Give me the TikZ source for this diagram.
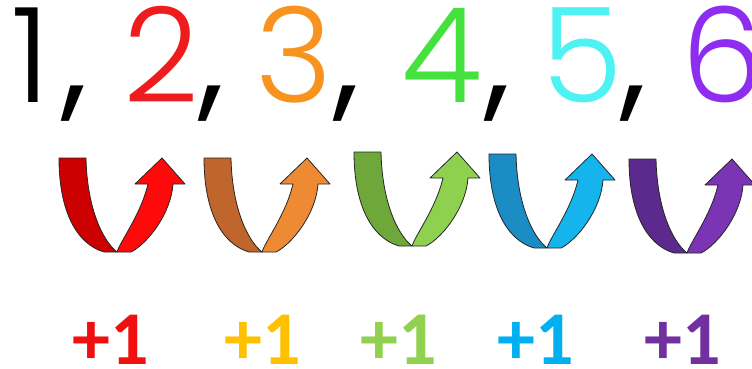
\documentclass[tikz,border=0pt]{standalone}
\usepackage{fontspec}
\newfontfamily\digitfont{Poppins}[UprightFont={* Light}]
\newfontfamily\commafont{Poppins}
\newfontfamily\plusfont{Carlito}
\definecolor{cTwo}{HTML}{EE1C1C}
\definecolor{cThree}{HTML}{F7931E}
\definecolor{cFour}{HTML}{45E23F}
\definecolor{cFive}{HTML}{4FF2F2}
\definecolor{cSix}{HTML}{8E2DF0}
\definecolor{pRed}{HTML}{F01010}
\definecolor{pGold}{HTML}{FFC000}
\definecolor{pGreen}{HTML}{92D050}
\definecolor{pBlue}{HTML}{00B0F0}
\definecolor{pPurple}{HTML}{7030A0}
\definecolor{aRedD}{HTML}{CC0000}
\definecolor{aRedL}{HTML}{FF0A0A}
\definecolor{aOrgD}{HTML}{C0652B}
\definecolor{aOrgL}{HTML}{EE8A34}
\definecolor{aGrnD}{HTML}{6EA83A}
\definecolor{aGrnL}{HTML}{8ED14E}
\definecolor{aBluD}{HTML}{1C8CC4}
\definecolor{aBluL}{HTML}{16B4EC}
\definecolor{aPurD}{HTML}{5B2A8C}
\definecolor{aPurL}{HTML}{7B34B4}
\newcommand\uarrow[3]{%
\begin{scope}[shift={#1}]
\draw[arrowline, fill=#3] (0,0) -- (14,0) .. controls (30,8) and (54,38) .. (56,68) -- (68,68) -- (45,94) -- (18,68) -- (31,68) .. controls (24,38) and (4,12) .. (0,0) -- cycle;
\draw[arrowline, fill=#2] (-58,94) .. controls (-58,40) and (-40,8) .. (-13,0) -- (0,0) .. controls (-15,12) and (-30,45) .. (-31,94) -- cycle;
\end{scope}}
\begin{document}
\begin{tikzpicture}[x=1pt,y=1pt,
  bignum/.style={font=\digitfont\fontsize{132}{132}\selectfont, inner sep=0pt, anchor=base, text depth=0pt},
  bigcomma/.style={font=\commafont\fontsize{132}{132}\selectfont, inner sep=0pt, anchor=base, text=black},
  plusone/.style={font=\plusfont\bfseries\fontsize{76}{76}\selectfont, inner sep=0pt, anchor=base, text depth=0pt},
  arrowline/.style={draw=black!85, line width=0.8pt, line join=round}]
\clip (0,0) rectangle (752,368);
\fill[white] (0,0) rectangle (752,368);
% numbers
\node[bignum, text=black] (n1) at (31,266) {1};
\node[bigcomma] (c1) at (75,266) {,};
\node[bignum, text=cTwo] (n2) at (161,266) {2};
\node[bigcomma] (c2) at (212,266) {,};
\node[bignum, text=cThree] (n3) at (294,266) {3};
\node[bigcomma] (c3) at (347,266) {,};
\node[bignum, text=cFour] (n4) at (442,266) {4};
\node[bigcomma] (c4) at (498,266) {,};
\node[bignum, text=cFive] (n5) at (582,266) {5};
\node[bigcomma] (c5) at (634,266) {,};
\node[bignum, text=cSix] (n6) at (723,266) {6};
% arrows
\uarrow{(117,116)}{aRedD}{aRedL}
\uarrow{(262,116)}{aOrgD}{aOrgL}
\uarrow{(412,122)}{aGrnD}{aGrnL}
\uarrow{(547,120)}{aBluD}{aBluL}
\uarrow{(687,115)}{aPurD}{aPurL}
% labels
\node[plusone, text=pRed] (p1) at (111,4) {+1};
\node[plusone, text=pGold] (p2) at (263,4) {+1};
\node[plusone, text=pGreen] (p3) at (399,4) {+1};
\node[plusone, text=pBlue] (p4) at (536,4) {+1};
\node[plusone, text=pPurple] (p5) at (683,4) {+1};
\end{tikzpicture}
\end{document}
